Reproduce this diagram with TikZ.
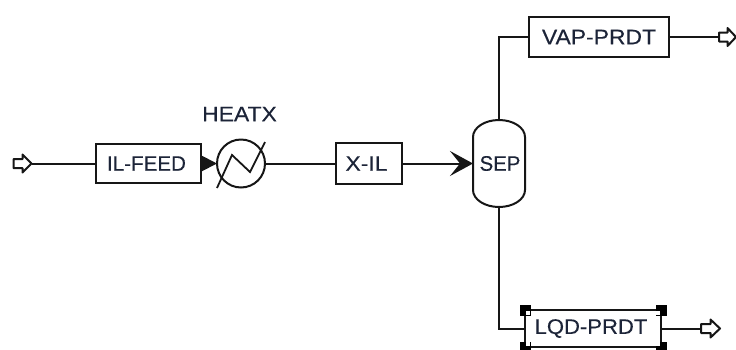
\documentclass[tikz,border=0pt]{standalone}
\usepackage{fontspec}
\setmainfont{Liberation Sans}
\usetikzlibrary{arrows.meta,calc}
\definecolor{ink}{HTML}{161616}
\definecolor{txt}{HTML}{1C2438}
\newcommand{\stretched}[2]{{\addfontfeature{FakeStretch=#1,FakeBold=0.25}#2}}
\newcommand{\portshape}[1]{\draw[flow,fill=white,line join=round] ($(#1.west)+(0,-4.5)$) -- ($(#1.center)+(0,-4.5)$) -- ($(#1.center)+(0,-9)$) -- (#1.east) -- ($(#1.center)+(0,9)$) -- ($(#1.center)+(0,4.5)$) -- ($(#1.west)+(0,4.5)$) -- cycle;}
\tikzset{
  x=1pt,y=-1pt,
  every node/.style={inner sep=0pt,outer sep=0pt,text=txt,font=\fontsize{21}{23}\selectfont},
  flow/.style={draw=ink,line width=2pt},
  blockbox/.style={flow,fill=white,anchor=north west},
  portnode/.style={minimum width=18pt,minimum height=18pt},
  handle/.style={fill=black,minimum size=11pt},
  hinner/.style={fill=white,minimum size=4pt},
}
\begin{document}
\begin{tikzpicture}
\useasboundingbox (0,0) rectangle (736,349);
% blocks
\node[portnode] (pin) at (22.5,163.5) {};
\node[minimum width=105pt,minimum height=39pt,blockbox] (feed) at (96,144) {\kern-4pt\stretched{0.98}{IL-FEED}};
\node[flow,fill=white,circle,minimum size=48pt] (heat) at (241,163.5) {};
\node (heatlbl) at (239.5,114) {\stretched{1.09}{HEATX}};
\node[minimum width=66pt,minimum height=41pt,blockbox] (xil) at (336,143) {\kern-5pt\stretched{1.09}{X-IL}};
\node[minimum width=52pt,minimum height=87pt,anchor=north west] (sep) at (473,120) {\kern2pt\stretched{0.97}{SEP}};
\node[minimum width=140pt,minimum height=40pt,blockbox] (vap) at (529,17) {\stretched{1.09}{VAP-PRDT}};
\node[portnode,minimum width=17pt] (pvap) at (727.5,37) {};
\node[minimum width=136pt,minimum height=37pt,draw=ink,line width=1.8pt,fill=white,anchor=north west] (lqd) at (525,310) {\kern-4pt\stretched{1.05}{LQD-PRDT}};
\node[portnode,minimum width=19pt] (plqd) at (710.5,328.5) {};
% selection handles
\node[handle] (h1) at (525,310) {};
\node[handle] (h2) at (661,310) {};
\node[handle] (h3) at (525,347) {};
\node[handle] (h4) at (661,347) {};
\node[hinner] (i1) at (528,313) {};
\node[hinner] (i2) at (658,313) {};
\node[hinner] (i3) at (528,344) {};
\node[hinner] (i4) at (658,344) {};
% ports
\portshape{pin}
\portshape{pvap}
\portshape{plqd}
% heater zigzag
\draw[flow,line width=1.8pt] ($(heat.center)+(-24,24.5)$) -- ($(heat.center)+(-9,-8.5)$) -- ($(heat.center)+(9,8.5)$) -- ($(heat.center)+(24,-21.5)$);
% separator vessel
\draw[flow] (sep.west |- 0,137) -- (sep.west |- 0,190) arc[start angle=180,end angle=360,x radius=26pt,y radius=17pt] -- (sep.east |- 0,137) arc[start angle=0,end angle=180,x radius=26pt,y radius=17pt] -- cycle;
% connectors
\draw[flow] (pin.east) -- (feed.west);
\draw[flow,-{Stealth[length=16pt,width=16pt,inset=0pt]}] (feed.east) -- (heat.west);
\draw[flow] (heat.east) -- (xil.west);
\draw[flow,-{Stealth[length=23pt,width=25pt,inset=10pt]}] (xil.east) -- (xil.east -| sep.west);
\draw[flow] (sep.north) |- (vap.west);
\draw[flow] (vap.east) -- (pvap.west);
\draw[flow] (sep.south) |- (lqd.west);
\draw[flow] (lqd.east) -- (plqd.west);
\end{tikzpicture}
\end{document}
